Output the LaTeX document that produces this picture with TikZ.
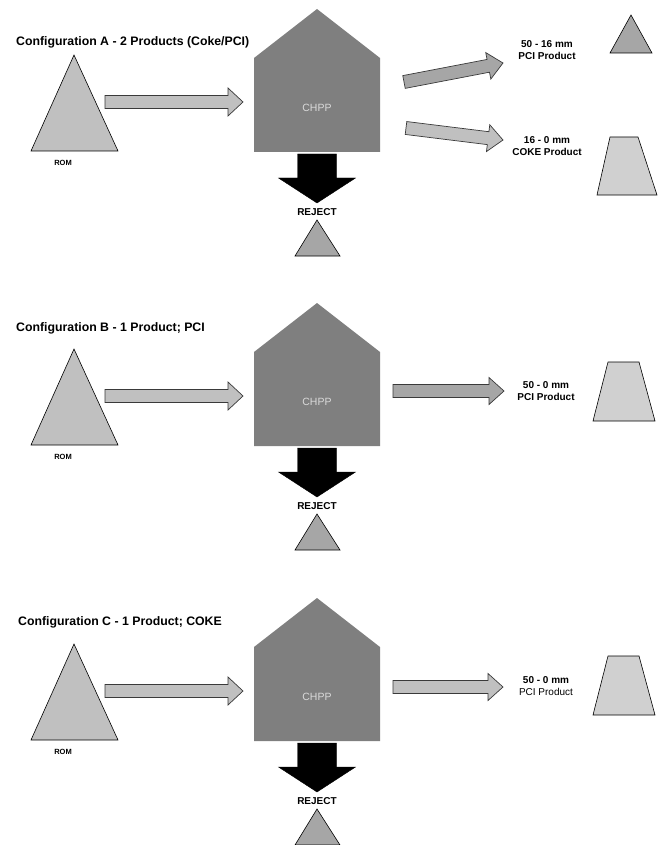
\documentclass[tikz,border=0pt]{standalone}
\usepackage{fontspec}
\setmainfont{Liberation Sans}
\usetikzlibrary{calc}

\definecolor{romgray}{HTML}{C0C0C0}
\definecolor{plantgray}{HTML}{7F7F7F}
\definecolor{midgray}{HTML}{A6A6A6}
\definecolor{prodgray}{HTML}{D0D0D0}
\definecolor{edgegray}{HTML}{3A3A3A}
\definecolor{chpptext}{HTML}{DADADA}

% block arrow: [style]{from}{to}{half body}{half head}{head length}
\newcommand{\blockarr}[6][]{%
	\coordinate (hb) at ($(#3)!#6!(#2)$);
	\draw[#1] ($(#2)!#4!90:(#3)$) -- ($(hb)!#4!90:(#3)$) -- ($(hb)!#5!90:(#3)$) -- (#3)
		-- ($(hb)!#5!-90:(#3)$) -- ($(hb)!#4!-90:(#3)$) -- ($(#2)!#4!-90:(#3)$) -- cycle;
}

\begin{document}
\begin{tikzpicture}[x=1pt, y=-1pt,
			title/.style={anchor=west, inner sep=0pt, font=\fontsize{12.3}{14}\selectfont\bfseries},
			tag/.style={font=\fontsize{7.5}{9}\selectfont\bfseries},
			rejlbl/.style={font=\fontsize{10}{12}\selectfont\bfseries},
			plantlbl/.style={text=chpptext, font=\fontsize{10.5}{12}\selectfont},
			prod/.style={align=center, font=\fontsize{10}{12.5}\selectfont\bfseries},
			heap/.style={draw=black, fill=romgray, line width=0.6pt},
			feed/.style={draw=edgegray, fill=romgray, line width=0.7pt},
			outlet/.style={draw=edgegray, line width=0.7pt}]
			\useasboundingbox (0,0) rectangle (665,845);
			
			% the part every configuration shares
			\foreach \dy/\p in {0/A, 294/B, 589/C} {
				\begin{scope}[shift={(0,\dy)}]
					% ROM stockpile
					\draw[heap] (74,55) -- (118,151) -- (31,151) -- cycle;
					\node[tag] (rom\p) at (63,163) {ROM};
					% plant
					\fill[plantgray] (254,152) -- (254,58) -- (317,9) -- (380,58) -- (380,152) -- cycle;
					\node[plantlbl] (chpp\p) at (317,108) {CHPP};
					% feed
					\coordinate (fin\p) at (105,102);
					\coordinate (fout\p) at (243,102);
					\blockarr[feed]{fin\p}{fout\p}{6.5pt}{14pt}{15pt}
					% reject
					\coordinate (rin\p) at (317,154);
					\coordinate (rout\p) at (317,203);
					\blockarr[fill=black, draw=black]{rin\p}{rout\p}{19.5pt}{38.5pt}{25pt}
					\node[rejlbl] (rej\p) at (317,212) {REJECT};
					\draw[heap, fill=midgray] (317,220) -- (340,256) -- (295,256) -- cycle;
				\end{scope}
			}
			
			\node[title] (titleA) at (16,42) {Configuration A - 2 Products (Coke/PCI)};
			\node[title] (titleB) at (16,328) {Configuration B - 1 Product; PCI};
			\node[title] (titleC) at (18,622) {Configuration C - 1 Product; COKE};
			
			% A: two products
			\coordinate (pinA) at (404,82);
			\coordinate (poutA) at (503,63);
			\blockarr[outlet, fill=midgray]{pinA}{poutA}{6.5pt}{13.5pt}{15pt}
			\node[prod] (pciA) at (547,50) {50 - 16 mm\\PCI Product};
			\draw[heap, fill=midgray] (631,15) -- (652,53) -- (610,53) -- cycle;
			
			\coordinate (cinA) at (406,128);
			\coordinate (coutA) at (503,140);
			\blockarr[outlet, fill=romgray]{cinA}{coutA}{6.5pt}{13.5pt}{15pt}
			\node[prod] (cokeA) at (547,146) {16 - 0 mm\\COKE Product};
			\draw[heap, fill=prodgray] (610,137) -- (638,137) -- (657,195) -- (597,195) -- cycle;
			
			% B: PCI only
			\coordinate (pinB) at (393,391);
			\coordinate (poutB) at (504,391);
			\blockarr[outlet, fill=midgray]{pinB}{poutB}{6.5pt}{13.5pt}{15pt}
			\node[prod] (pciB) at (546,391) {50 - 0 mm\\PCI Product};
			\draw[heap, fill=prodgray] (608,362) -- (639,362) -- (655,421) -- (593,421) -- cycle;
			
			% C: coke only
			\coordinate (cinC) at (393,687);
			\coordinate (coutC) at (503,687);
			\blockarr[outlet, fill=romgray]{cinC}{coutC}{6.5pt}{13.5pt}{15pt}
			\node[prod] (pciC) at (546,686) {50 - 0 mm\\\mdseries PCI Product};
			\draw[heap, fill=prodgray] (608,656) -- (639,656) -- (655,715) -- (593,715) -- cycle;
		\end{tikzpicture}
\end{document}
